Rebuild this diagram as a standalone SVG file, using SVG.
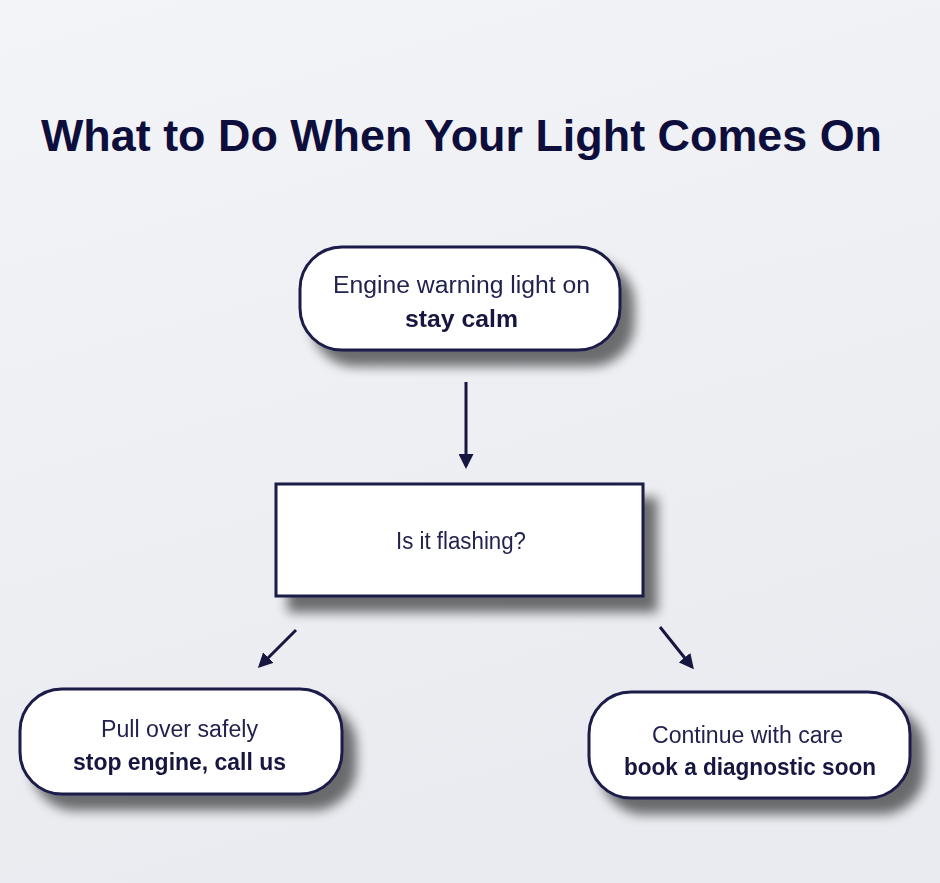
<svg xmlns="http://www.w3.org/2000/svg" width="940" height="883" viewBox="0 0 940 883">
<defs>
<linearGradient id="bg" x1="0" y1="0" x2="0.3" y2="1">
<stop offset="0" stop-color="#f3f4f7"/>
<stop offset="1" stop-color="#e9ebf0"/>
</linearGradient>
<filter id="sh" x="-20%" y="-30%" width="150%" height="190%">
<feGaussianBlur in="SourceAlpha" stdDeviation="6"/>
<feOffset dx="13" dy="15" result="b"/>
<feComponentTransfer><feFuncA type="linear" slope="0.55"/></feComponentTransfer>
<feMerge><feMergeNode/><feMergeNode in="SourceGraphic"/></feMerge>
</filter>
<marker id="ah" viewBox="0 0 10 10" refX="8" refY="5" markerWidth="5" markerHeight="5" orient="auto" markerUnits="strokeWidth">
<path d="M0,0 L10,5 L0,10 z" fill="#161640"/>
</marker>
<style>
.box{fill:#ffffff;stroke:#1b1b48;stroke-width:3}
.t{font-family:"Liberation Sans",Arial,sans-serif;fill:#23234f;text-anchor:middle;font-size:23px}
.b{font-weight:bold;fill:#15153f}
.title{font-family:"Liberation Sans",Arial,sans-serif;font-weight:bold;font-size:44px;fill:#0e0e3c}
.c{stroke:#161640;stroke-width:3;fill:none;marker-end:url(#ah)}
</style>
</defs>
<rect width="940" height="883" fill="url(#bg)"/>
<text class="title" x="41" y="151" textLength="841" lengthAdjust="spacingAndGlyphs">What to Do When Your Light Comes On</text>
<g id="n1" filter="url(#sh)">
<rect class="box" x="300" y="247" width="320" height="103" rx="42"/>
<text class="t" x="461.5" y="293" textLength="257" lengthAdjust="spacingAndGlyphs">Engine warning light on</text>
<text class="t b" x="461.5" y="327" textLength="113" lengthAdjust="spacingAndGlyphs">stay calm</text>
</g>
<g id="n2" filter="url(#sh)">
<rect class="box" x="276" y="484" width="367" height="112"/>
<text class="t" x="461" y="549" textLength="130" lengthAdjust="spacingAndGlyphs">Is it flashing?</text>
</g>
<g id="n3" filter="url(#sh)">
<rect class="box" x="20" y="689" width="322" height="105" rx="42"/>
<text class="t" x="179.5" y="737" textLength="157" lengthAdjust="spacingAndGlyphs">Pull over safely</text>
<text class="t b" x="179.5" y="770" textLength="213" lengthAdjust="spacingAndGlyphs">stop engine, call us</text>
</g>
<g id="n4" filter="url(#sh)">
<rect class="box" x="589" y="692" width="321" height="106" rx="42"/>
<text class="t" x="747.5" y="743" textLength="191" lengthAdjust="spacingAndGlyphs">Continue with care</text>
<text class="t b" x="750" y="775" textLength="252" lengthAdjust="spacingAndGlyphs">book a diagnostic soon</text>
</g>
<g id="connectors">
<line class="c" x1="466" y1="382" x2="466" y2="466"/>
<line class="c" x1="296" y1="630" x2="260" y2="666"/>
<line class="c" x1="660" y1="627" x2="692" y2="667"/>
</g>
</svg>
